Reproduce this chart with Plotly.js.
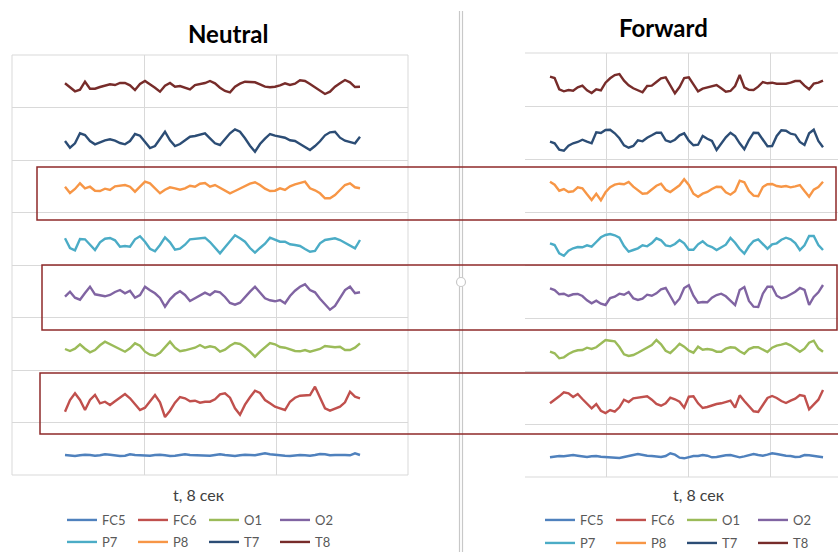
<!DOCTYPE html>
<html>
<head>
<meta charset="utf-8">
<script src="https://cdn.plot.ly/plotly-3.0.1.min.js"></script>
<style>
  html, body { margin: 0; padding: 0; background: #ffffff; overflow: hidden; }
  #chart { width: 838px; height: 580px; }
</style>
</head>
<body>
<div id="chart"></div>
<script>
// ---------------- DATA ----------------
const channels = ["FC5", "FC6", "O1", "O2", "P7", "P8", "T7", "T8"];
const channelColors = ["#4F81BD", "#C0504D", "#9BBB59", "#8064A2", "#4BACC6", "#F79646", "#2C4D75", "#772C2A"];
const panelTitles = ["Neutral", "Forward"];
const xAxisTitle = "t, 8 сек";

// Neutral condition (amplitude readings per sample)
const neutralFC5 = [0, -0.7, -1, -0.3, 0.3, 0, -0.7, -0.3, 0.7, 0.3, -0.3, -1, -0.7, 0.7, 0, -0.3, -1, -0.7, 0, 0.3, -0.3, -1, -0.7, 0, 0.7, 0, -0.3, 0, -1, -0.7, 0, 0.7, 0, -0.3, -1, -0.3, 0.3, 0, -0.3, 0.7, 1.7, 0.7, 0, -0.3, -0.7, -1, -0.3, 0, -0.3, -0.7, 0, 1, 0.7, -0.3, 0, 0.3, 0, -0.3, 1.7, 0];
const neutralFC6 = [-11.7, 0, 6.7, 0, -10, 0, 5, -3.3, -1.7, -5, -1.3, 2.3, 6, 1.7, -4.7, -10, -7.7, -1, 5, -2.3, -17, -10.7, -2.7, 3, 1.7, -1.3, -0.7, -2.7, -1.7, -1.7, 0.7, 5.7, 6.7, 2.3, -8.3, -14.7, -4.7, 2.7, 9.3, 7, 0, -3.3, -6.7, -8.3, -10, -1.7, 2.3, 4.3, 5, 5, 13.3, 1.7, -8.3, -10.7, -8.7, -6.7, -2.3, 8.3, 3.3, 1.7];
const neutralO1 = [-2, -4, -1.7, 2.7, -1.7, -5.3, -3, 1.7, 5.3, 2.7, 0.3, -2.3, -4.7, -1.3, 3.7, 1.3, -4.7, -7.7, -8.7, -5.7, -0.7, 5.3, -0.7, -4.3, -3.3, -2, -0.7, 2, -0.7, 0.7, -0.3, -4.7, -2.7, 1.3, 4, 3, -0.3, -4.7, -9.7, -4.7, 0, 4, 2.7, 0, -0.7, -2.3, -4, -4.3, -3, -4.7, -3.7, -2, 1, 0.7, -0.3, 0.3, -3, -3, -0.7, 3.7];
const neutralO2 = [-3.7, 1.3, -4.7, -6.7, 0, 6.3, -1.3, -2, -3.3, -2, 1, 3, -0.3, 2.3, -4.7, -2, 6.3, 2.7, -0.3, -5, -13.7, -6.3, -1.3, 1.7, -2, -8, -5.3, -2.7, 0.3, -2, 1.7, 0.7, -4, -10, -11.7, -9.7, -3.7, 1.3, 6.3, 0.7, -5.3, -7.3, -8.3, -7, -10.3, -3, 2.3, 6.3, 8.7, 3, 0.7, -5.7, -10.7, -16.7, -13, -4.3, 3, 6.3, -0.3, 0.7];
const neutralP7 = [2.7, -7, -9.3, 2, 1.7, -4, -9, -1.3, 2.3, 3, 0.7, -5.7, -5, -5.7, 1.7, 4.7, -0.7, -7.7, -10.3, -4, 3.7, -1.3, -8.7, -7.7, -3.7, 1.7, 2.3, 2.7, 3.3, -1, -6.3, -12.3, -6.3, -0.3, 5.7, 2.7, -0.7, -7, -11.7, -7, -2.7, 3.3, 1, -0.7, -0.7, -3.3, -4, -5, -8, -10.7, -10, -2.3, 1, 2, 2.7, 1, -1.7, -5, -7.3, 1];
const neutralP8 = [1.3, -5, -1, 4.7, -0.3, 1.3, -2.7, -3, -0.7, -2, 1.7, 2.3, 3, 1.3, -3.7, 1.3, 6.3, 4.7, -0.3, -5.3, -1.7, 0.7, -0.3, -1.7, -0.3, 2.3, 1.3, 4.3, 5, 1.3, 3, 0, -3, -5.3, -3, -0.7, 1.3, 4.3, 5.7, 3, -0.7, -3, -2.7, -0.3, -2, 1.7, 3.7, 4.7, 6.3, -0.3, -2.3, -5.3, -10.3, -10.3, -7, -2, 3, 4.7, 0.7, -0.3];
const neutralT7 = [-4, -10.7, -6.3, 3.7, 2, -4, -7.3, -5.3, -3.3, -2.3, -3.7, -6, -7.3, -4, 3, 1.3, -5, -11, -9, -2, 5.3, -3.3, -9, -7, -3.7, 0.3, 1, 2, 3.7, -1.3, -6.3, -8, -2, 3.7, 7.7, 5.3, -1.3, -8.7, -14.7, -7, -1.7, 3, 1.3, 0.3, -0.7, -3.3, -4, -7, -10, -13, -9, -4.3, 1.7, 4.7, 5.3, -0.7, -3.7, -5, -6.3, 0.3];
const neutralT8 = [3.7, -0.3, -4.3, -2.7, 5.3, -1.7, -1.7, 0, 1.7, 2.7, 2, 4, 4, 1.7, -3, 3, 6, 3, -0.7, -4.7, 1.3, 4, 0.3, 1, -0.3, -2.3, 2, 3, 4, 6, 3.7, -0.7, -4, -5.3, 0.3, 3.3, 5.3, 5, 4.7, 2.7, 0.3, -0.3, 0.3, 1.7, 3.7, 2, 3.3, 6.7, 6, 3, -0.3, -4, -7, -4.7, 0.3, 3.7, 7, 4.7, 0, 0.3];

// Forward condition
const forwardFC5 = [-2.3, -1.7, -1, -1.3, -0.3, 0, -0.7, -1.7, -2, -1.3, -1, -1.7, -2, -1.7, -2.3, -3, -2, -0.7, 0, 1, 0, -0.7, -1, -1.7, -2, -1, 1.7, 0.3, -2.7, -3.3, -2, -1, -1, 0, -0.7, -2.3, -2, -1, -0.3, 0, -1, -2.3, -1.3, 0, 1, 0, -0.7, 0.3, 1.7, 1, 0, -0.7, -1, -2, -1.7, 0, -0.3, -1, -2, -2.3];
const forwardFC6 = [-0.3, 3, 6.7, 10.7, 9.7, 6, 9, 4, -0.7, -5.3, -1, -7.7, -10, -7, -8.7, -4.3, 3.3, 1, 4.7, 5.3, 6.3, 6.7, 3.3, -1, -2.7, -0.3, 5.3, 3.7, 1.3, -4.7, 6.3, 6.7, -0.3, -5, -4, -2.3, -1, -0.3, 1, 2.3, -4.7, 7.7, 2, -3, -8.3, -9, -1.7, 5, 7, 5, 2, 0, 2.3, 4.3, 8, 7, -6.3, -2, 3.3, 13];
const forwardO1 = [-2.7, -4.3, -9.3, -8.3, -5, -2.7, -1.3, -1, 1.3, 0, 1.7, 5, 9, 8.3, 7.7, 2, -5.3, -7, -6, -3.7, -1, 1.3, 4, 9, 4.7, -1.7, -4, 0.3, 5.3, 2.3, -1.7, -3.7, 2.3, -0.7, 0, -0.7, -2.7, -2.7, 0.3, 1.7, 1.3, -2.3, -4.7, 0, 1.7, 1.7, -1, -3, 1.3, 3.3, 4.3, 5.7, 3.7, 0.7, -2.7, 0.3, 6.3, 8.3, 0.7, -2.7];
const forwardO2 = [7.7, 6, 1.7, 2.3, 0, 1.7, 2, 0, -4.3, -7.3, -4.7, -7.7, -9, -2, -0.7, 2.3, 1.3, 4, -2.3, -4, -2.7, 1.3, 0.3, 2.7, 6.7, 8, 0, -8, -2.7, 8, 10.7, 0.3, -6.7, -6, -6.3, -1.7, 1, 2.3, -0.3, -4.7, -9, 6, 9, -5, -10.7, -11, 2.3, 9.3, 9.3, 0.3, -2.3, -1, 1.3, 4.3, 8, 6, -9, -1, 3.7, 11];
const forwardP7 = [2.7, 1, -7.3, -9.7, -4.7, -2.3, -1, -1.3, 0.7, -0.7, 4, 8.7, 11, 12, 10.7, 8.3, 0, -5.7, -4, -2.3, 0.7, -0.3, 3, 7.7, 5.7, 0.7, -0.3, 2, 6, 2.7, -3.7, -3.7, 1.7, 4.7, 0.7, -1, -4, -1, 1.3, 8, 3.3, -3, -7.7, -0.3, 5, 6.7, 2, -2.7, 1.7, 2.7, 6.3, 8.3, 6.7, 3, -4, 0.7, 10, 10, 1, -4];
const forwardP8 = [7.3, 4.3, -1.7, 0, -3, -2.3, 1.7, 0.7, -5.3, -11, -4.7, -11.3, -3.3, 1.7, 4.3, 5.3, 4.7, 7, 2.3, -1, -4.7, -4.3, -0.7, 3.3, 5.3, -0.7, -3, 0.3, 3.7, 9.7, 4, -4.7, -7.7, -4.7, -3, 0, 2.3, 2, -3.3, -5.7, -2.3, 8.3, 6.7, -2, -6.7, -7.3, 2, 4.7, 5, 3, 2.3, 3, 1.7, 2.7, 4, -2, -7.7, -0.7, 2, 7.3];
const forwardT7 = [-1.7, -3.3, -9.7, -10.7, -5.7, -3.3, -2, 0.3, -1.7, -3.3, 7.7, 7, 10, 10.3, 6.7, 1.7, -5.3, -7.7, -6, -0.3, -1.3, 2.3, 4.7, 7.3, 7.3, -0.3, -2, 0.3, 4.7, 6.7, -0.7, -5.3, -4.7, 4, 1.3, -1, -10, -3, 2.7, 7.3, 4, -3.3, -9.3, 0, 7.3, 7, 0.7, -6.3, -6, 4, 9.7, 9.3, 6.3, 5.3, -2, -5, 6.7, 10.3, -1, -7.3];
const forwardT8 = [7.3, 6, -5.3, -7.3, -6, -6.7, -3.3, -1.7, -6.3, -9, -5.3, -6.3, 1.3, 5.7, 9, 10, 3.3, -1.3, -4.3, -6.7, -8.3, -2, -1.7, 2, 5.7, 6.7, -1, -9.3, -3, 6, 6.7, -1, -7.3, -4.7, -3.3, -2, -1, -4.3, -7.7, -7, -2, 9, -3.3, -5.7, -6, -2.7, 2, 0.7, 1.3, 0.3, 0, 0.3, 1.3, 3, 3, -1.7, -5.3, 0.3, 1.3, 3.3];

const neutralSeries = [neutralFC5, neutralFC6, neutralO1, neutralO2, neutralP7, neutralP8, neutralT7, neutralT8];
const forwardSeries = [forwardFC5, forwardFC6, forwardO1, forwardO2, forwardP7, forwardP8, forwardT7, forwardT8];

// ---------------- LAYOUT CONSTANTS ----------------
// figure is a bit taller than the 552px window so the bottom legend row stays inside the paper
const W = 838, H = 580;
const PX = x => x / W;
const PY = y => 1 - y / H;
// vertical stacking offset of each channel (axis units) per panel
const stackLeft  = [20, 75, 128, 182, 234, 287, 338, 388];
const stackRight = [22, 74, 128, 181, 231, 288, 337, 393];
// gridline positions (axis units)
const gridLeftX  = [15.8, 42.2];
const gridLeftY  = [52.5, 105, 157.5, 210, 262.5, 315, 367.5];
const gridRightX = [-5.4, 12.26, 29.92, 47.58];
const gridRightY = [53, 106, 159, 212, 265, 318, 371];

const traces = [];
function addPanel(series, stack, xa, ya, legRow1, legRow2) {
  series.forEach((vals, k) => {
    traces.push({
      type: 'scatter', mode: 'lines',
      name: channels[k],
      x: vals.map((_, i) => i),
      y: vals.map(v => stack[k] + v),
      xaxis: xa, yaxis: ya,
      line: { color: channelColors[k], width: 2.4 },
      legend: k < 4 ? legRow1 : legRow2,
      hoverinfo: 'skip'
    });
  });
}
addPanel(neutralSeries, stackLeft, 'x', 'y', 'legend', 'legend2');
addPanel(forwardSeries, stackRight, 'x2', 'y2', 'legend3', 'legend4');

const gridColor = '#d9d9d9';
const axisCommon = {
  showgrid: true, gridcolor: gridColor, gridwidth: 1, tickmode: 'array',
  zeroline: false, showticklabels: false, ticks: '',
  showline: false, fixedrange: true
};

const legFont = { family: 'Lato, "Open Sans", sans-serif', size: 13, color: '#595959' };
function leg(xpx, ypx) {
  return {
    orientation: 'h', x: PX(xpx), y: PY(ypx), xanchor: 'left', yanchor: 'middle',
    xref: 'paper', yref: 'paper',
    bgcolor: 'rgba(0,0,0,0)', borderwidth: 0, font: legFont,
    entrywidth: 26, entrywidthmode: 'pixels', itemclick: false, itemdoubleclick: false
  };
}

function hline(x0, x1, y, color, w) {
  return { type: 'line', xref: 'paper', yref: 'paper', x0: PX(x0), x1: PX(x1), y0: PY(y), y1: PY(y), line: { color: color, width: w }, layer: 'below' };
}
function vline(x, y0, y1, color, w) {
  return { type: 'line', xref: 'paper', yref: 'paper', x0: PX(x), x1: PX(x), y0: PY(y0), y1: PY(y1), line: { color: color, width: w }, layer: 'below' };
}

const sepGray = '#c8c8c8';
const boxRed = '#8e2a2a';
const shapes = [
  // plot area borders: Neutral (closed frame), Forward (open on the right)
  hline(12, 408, 55, gridColor, 1), hline(12, 408, 475, gridColor, 1),
  vline(12, 55, 475, gridColor, 1), vline(408, 55, 475, gridColor, 1),
  hline(525, 838, 53, gridColor, 1), hline(525, 838, 477, gridColor, 1),
  // window splitter
  { type: 'line', xref: 'paper', yref: 'paper', x0: PX(459.5), x1: PX(459.5), y0: PY(11), y1: PY(575), line: { color: sepGray, width: 1.2 } },
  { type: 'line', xref: 'paper', yref: 'paper', x0: PX(462.5), x1: PX(462.5), y0: PY(11), y1: PY(575), line: { color: sepGray, width: 1.2 } },
  { type: 'circle', xref: 'paper', yref: 'paper', x0: PX(456.5), x1: PX(465.5), y0: PY(277.5), y1: PY(286.5), fillcolor: '#ffffff', line: { color: sepGray, width: 1.2 } },
  // highlight boxes
  { type: 'rect', xref: 'paper', yref: 'paper', x0: PX(37), x1: PX(836), y0: PY(167), y1: PY(220), line: { color: boxRed, width: 1.5 }, layer: 'above' },
  { type: 'rect', xref: 'paper', yref: 'paper', x0: PX(42), x1: PX(837), y0: PY(265), y1: PY(330), line: { color: boxRed, width: 1.5 }, layer: 'above' },
  { type: 'path', xref: 'paper', yref: 'paper', path: 'M' + PX(838) + ',' + PY(373) + ' L' + PX(40) + ',' + PY(373) + ' L' + PX(40) + ',' + PY(434) + ' L' + PX(838) + ',' + PY(434), line: { color: boxRed, width: 1.5 }, layer: 'above' }
];

const titleFont = { family: 'Lato, "Open Sans", sans-serif', size: 24, color: '#000000', weight: 700 };
const axTitleFont = { family: 'Lato, "Open Sans", sans-serif', size: 16, color: '#404040' };
const annotations = [
  { text: '<b>' + panelTitles[0] + '</b>', xref: 'paper', yref: 'paper', x: PX(228), y: PY(33), showarrow: false, xanchor: 'center', yanchor: 'middle', font: titleFont },
  { text: '<b>' + panelTitles[1] + '</b>', xref: 'paper', yref: 'paper', x: PX(663), y: PY(28), showarrow: false, xanchor: 'center', yanchor: 'middle', font: titleFont },
  { text: xAxisTitle, xref: 'paper', yref: 'paper', x: PX(199), y: PY(494), showarrow: false, xanchor: 'center', yanchor: 'middle', font: axTitleFont },
  { text: xAxisTitle, xref: 'paper', yref: 'paper', x: PX(699), y: PY(494), showarrow: false, xanchor: 'center', yanchor: 'middle', font: axTitleFont }
];

const layout = {
  width: W, height: H,
  margin: { l: 0, r: 0, t: 0, b: 0 },
  paper_bgcolor: '#ffffff', plot_bgcolor: 'rgba(0,0,0,0)',
  showlegend: true,
  xaxis: Object.assign({}, axisCommon, { domain: [PX(12), PX(408)], range: [-10.6, 68.6], tickvals: gridLeftX, anchor: 'y' }),
  yaxis: Object.assign({}, axisCommon, { domain: [PY(475), PY(55)], range: [0, 420], tickvals: gridLeftY, anchor: 'x' }),
  xaxis2: Object.assign({}, axisCommon, { domain: [PX(525), 1], range: [-5.4, 62.24], tickvals: gridRightX, anchor: 'y2' }),
  yaxis2: Object.assign({}, axisCommon, { domain: [PY(477), PY(53)], range: [0, 424], tickvals: gridRightY, anchor: 'x2' }),
  legend: leg(62, 520),
  legend2: leg(62, 542),
  legend3: leg(540, 520),
  legend4: leg(540, 543),
  shapes: shapes,
  annotations: annotations
};

Plotly.newPlot('chart', traces, layout, { displayModeBar: false, staticPlot: true });
</script>
</body>
</html>
